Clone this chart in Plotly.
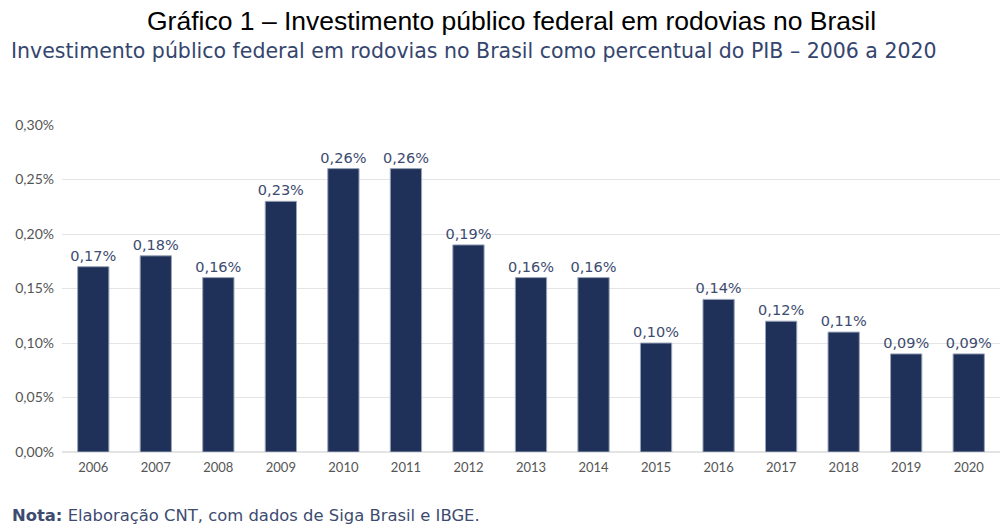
import plotly.graph_objects as go

anos = ["2006", "2007", "2008", "2009", "2010", "2011", "2012", "2013",
        "2014", "2015", "2016", "2017", "2018", "2019", "2020"]
invest_pib = [0.17, 0.18, 0.16, 0.23, 0.26, 0.26, 0.19, 0.16,
              0.16, 0.10, 0.14, 0.12, 0.11, 0.09, 0.09]
rotulos = [f"{v:.2f}%".replace(".", ",") for v in invest_pib]
y_ticks = [0.00, 0.05, 0.10, 0.15, 0.20, 0.25, 0.30]
y_tick_text = [f"{v:.2f}%".replace(".", ",") for v in y_ticks]

fonte = "Lato, 'Noto Sans', sans-serif"
fonte_larga = "'DejaVu Sans', sans-serif"

fig = go.Figure(go.Bar(
    x=anos, y=invest_pib,
    marker=dict(color="#1f3158", line=dict(color="#9aa4ba", width=1)),
    width=0.5,
    text=rotulos, textposition="outside", constraintext="none",
    textfont=dict(family=fonte_larga, size=14.5, color="#3d4b70"),
    cliponaxis=False,
))

fig.update_layout(
    width=1000, height=524,
    margin=dict(l=62, r=0, t=125, b=72),
    plot_bgcolor="white", paper_bgcolor="white",
    showlegend=False,
    xaxis=dict(type="category", showgrid=False, showline=False,
               tickfont=dict(family=fonte, size=13, color="#555555"),
               ticks="", ticklabelstandoff=6),
    yaxis=dict(range=[0, 0.30], tickvals=y_ticks, ticktext=y_tick_text,
               showgrid=True, gridcolor="#e4e4e4", gridwidth=1,
               zeroline=True, zerolinecolor="#e4e4e4",
               tickfont=dict(family=fonte, size=14, color="#555555"),
               ticks="", ticklabelstandoff=7),
    annotations=[
        dict(text="Gráfico 1 – Investimento público federal em rodovias no Brasil",
             x=511, y=21, xref="paper", yref="paper", xanchor="center", yanchor="middle",
             showarrow=False,
             font=dict(family="Arial, 'Liberation Sans'", size=26.5, color="#000000")),
        dict(text="Investimento público federal em rodovias no Brasil como percentual do PIB – 2006 a 2020",
             x=9, y=51, xref="paper", yref="paper", xanchor="left", yanchor="middle",
             showarrow=False,
             font=dict(family=fonte_larga, size=20.5, color="#34456e")),
        dict(text="<b>Nota:</b> Elaboração CNT, com dados de Siga Brasil e IBGE.",
             x=10, y=515, xref="paper", yref="paper", xanchor="left", yanchor="middle",
             showarrow=False,
             font=dict(family=fonte_larga, size=16.4, color="#3d4b70")),
    ],
)

# Annotation positions above are given in page pixels; convert them to paper units.
plot_w = 1000 - 62 - 0
plot_h = 524 - 125 - 72
for ann in fig.layout.annotations:
    ann.x = (ann.x - 62) / plot_w
    ann.y = (524 - 72 - ann.y) / plot_h

fig.write_html("out.html")
